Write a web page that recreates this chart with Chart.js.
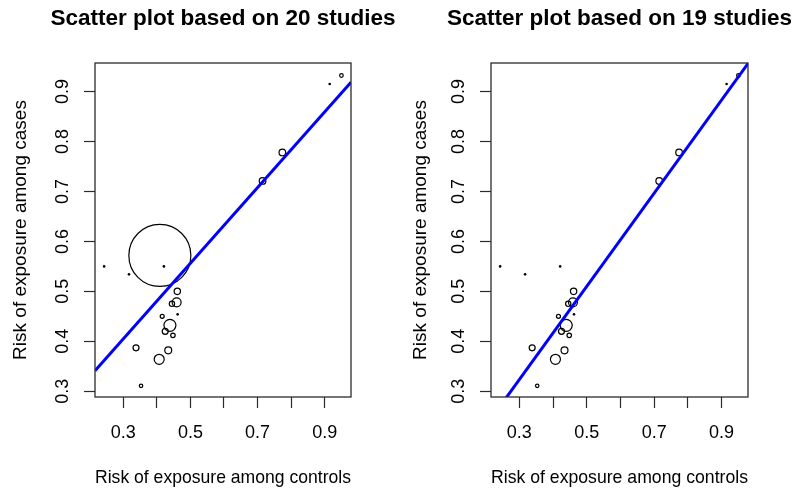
<!DOCTYPE html>
<html>
<head>
<meta charset="utf-8">
<title>Scatter plots of exposure risk</title>
<script src="https://cdn.jsdelivr.net/npm/chart.js@4.4.1/dist/chart.umd.min.js"></script>
<style>
  html, body { margin: 0; padding: 0; background: #fff; }
  .wrap { display: flex; width: 800px; height: 497px; }
  canvas { display: block; }
</style>
</head>
<body>
<div class="wrap">
  <canvas id="plot20" width="400" height="497"></canvas>
  <canvas id="plot19" width="400" height="497"></canvas>
</div>
<script>
  'use strict';

  // Per-study values
  const controlRisk = [0.243, 0.317, 0.421, 0.462, 0.915, 0.409, 0.461, 0.459, 0.445, 0.416,
                       0.439, 0.425, 0.448, 0.338, 0.434, 0.407, 0.353, 0.950, 0.715, 0.774];
  const caseRisk    = [0.550, 0.534, 0.550, 0.454, 0.915, 0.572, 0.500, 0.478, 0.475, 0.450,
                       0.432, 0.420, 0.412, 0.387, 0.382, 0.364, 0.311, 0.932, 0.721, 0.778];
  // relative study weights (0 = shown as a dot)
  const studyWeight = [0, 0, 0, 0, 0, 961, 10, 20, 7, 4,
                       36, 9, 5, 9, 12, 25, 3, 3.2, 11, 11];
  const droppedStudy = 5; // the heavy study left out on the right

  // fitted lines: [intercept, slope]
  const fit20 = [0.178, 0.757];
  const fit19 = [0.044, 0.932];

  // axes
  const xRange = [0.2158, 0.9785];
  const yRange = [0.2886, 0.957];
  const xTicks = [0.3, 0.4, 0.5, 0.6, 0.7, 0.8, 0.9];
  const xTickLabels = ['0.3', '0.5', '0.7', '0.9'];
  const yTicks = [0.3, 0.4, 0.5, 0.6, 0.7, 0.8, 0.9];

  const fontFamily = '"Liberation Sans", Arial, Helvetica, sans-serif';
  const axisColor = '#2b2b2b';

  // Box around the plot area + centred panel title
  const framePlugin = {
    id: 'frame',
    afterDraw(chart, args, opts) {
      const {ctx, chartArea: a} = chart;
      ctx.save();
      ctx.strokeStyle = axisColor;
      ctx.lineWidth = 1.3;
      ctx.strokeRect(a.left, a.top, a.right - a.left, a.bottom - a.top);
      ctx.fillStyle = '#000';
      ctx.font = 'bold 22.5px ' + fontFamily;
      ctx.textAlign = 'center';
      ctx.textBaseline = 'middle';
      ctx.fillText(opts.text, (a.left + a.right) / 2, 19);
      ctx.restore();
    }
  };

  function makePlot(id, title, keep, fit, boxLeft, padRight) {
    const points = [];
    const weights = [];
    keep.forEach(i => {
      points.push({x: controlRisk[i], y: caseRisk[i]});
      weights.push(studyWeight[i]);
    });
    const fitLine = xRange.map(x => ({x: x, y: fit[0] + fit[1] * x}));

    const tickFont = {family: fontFamily, size: 18};
    const titleFont = {family: fontFamily, size: 19};

    return new Chart(document.getElementById(id), {
      type: 'scatter',
      data: {
        datasets: [{
          data: fitLine,
          showLine: true,
          borderColor: '#0000ff',
          borderWidth: 3,
          pointRadius: 0,
          order: 0
        }, {
          data: points,
          order: 1,
          pointRadius: c => weights[c.dataIndex] > 0 ? Math.sqrt(weights[c.dataIndex]) : 1.3,
          pointHoverRadius: c => weights[c.dataIndex] > 0 ? Math.sqrt(weights[c.dataIndex]) : 1.3,
          pointBackgroundColor: c => weights[c.dataIndex] > 0 ? 'rgba(0,0,0,0)' : '#000',
          pointBorderColor: '#000',
          pointBorderWidth: c => weights[c.dataIndex] > 0 ? 1.2 : 0
        }]
      },
      options: {
        responsive: false,
        animation: false,
        events: [],
        devicePixelRatio: 1,
        layout: {padding: {left: 0, right: padRight, top: 63, bottom: 0}},
        plugins: {
          legend: {display: false},
          tooltip: {enabled: false},
          frame: {text: title}
        },
        scales: {
          x: {
            type: 'linear',
            min: xRange[0],
            max: xRange[1],
            afterBuildTicks: s => { s.ticks = xTicks.map(v => ({value: v})); },
            afterFit: s => { s.height = 100; },
            grid: {drawOnChartArea: false, tickLength: 11, tickColor: axisColor, tickWidth: 1.2},
            border: {display: false},
            ticks: {
              autoSkip: false, minRotation: 0, maxRotation: 0, padding: 14,
              color: '#000', font: tickFont,
              callback: v => xTickLabels.includes(v.toFixed(1)) ? v.toFixed(1) : ''
            },
            title: {
              display: true, text: 'Risk of exposure among controls', color: '#000',
              font: titleFont, padding: {top: 0, bottom: 8}
            }
          },
          y: {
            type: 'linear',
            min: yRange[0],
            max: yRange[1],
            afterBuildTicks: s => { s.ticks = yTicks.map(v => ({value: v})); },
            afterFit: s => { s.width = boxLeft; },
            grid: {drawOnChartArea: false, tickLength: 11, tickColor: axisColor, tickWidth: 1.2},
            border: {display: false},
            ticks: {
              autoSkip: false, minRotation: 90, maxRotation: 90, crossAlign: 'center',
              padding: 8, color: '#000', font: tickFont,
              callback: v => v.toFixed(1)
            },
            title: {
              display: true, text: 'Risk of exposure among cases', color: '#000',
              font: titleFont, padding: {top: 9, bottom: 0}
            }
          }
        }
      },
      plugins: [framePlugin]
    });
  }

  const all = controlRisk.map((_, i) => i);
  makePlot('plot20', 'Scatter plot based on 20 studies', all, fit20, 95, 49);
  makePlot('plot19', 'Scatter plot based on 19 studies',
           all.filter(i => i !== droppedStudy), fit19, 91, 52);
</script>
</body>
</html>
